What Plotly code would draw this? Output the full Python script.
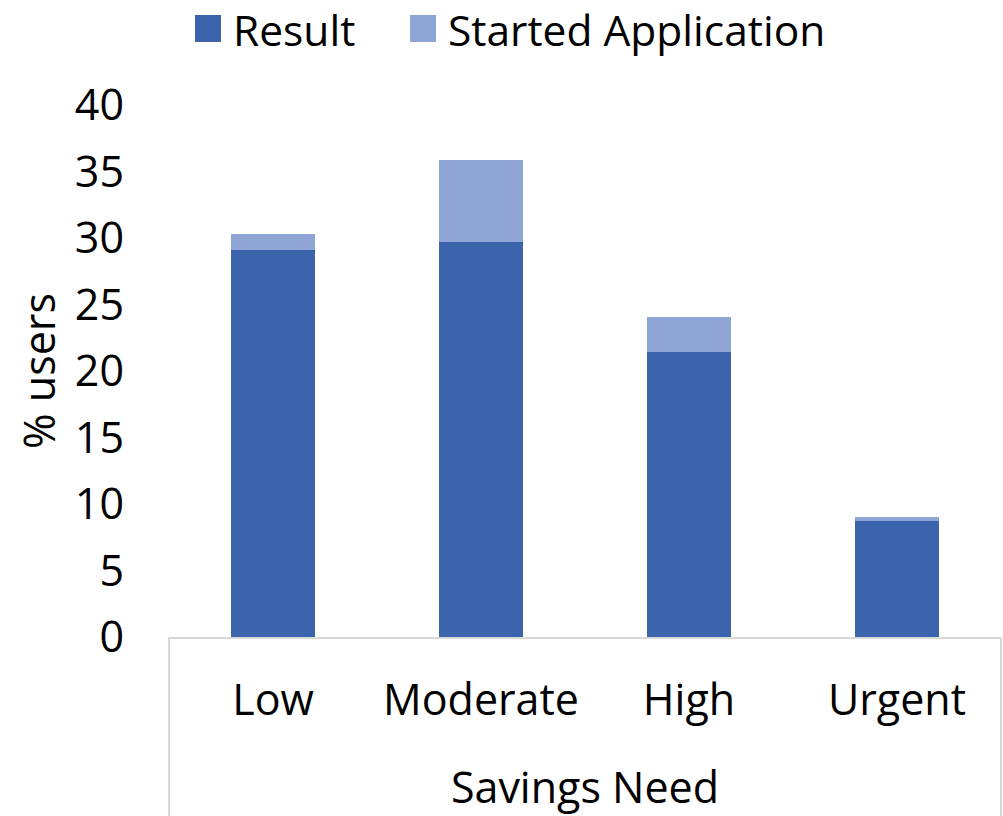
import plotly.graph_objects as go

categories = ["Low", "Moderate", "High", "Urgent"]
result = [29.1, 29.7, 21.4, 8.75]
started = [1.2, 6.2, 2.65, 0.3]
y_ticks = [0, 5, 10, 15, 20, 25, 30, 35, 40]
series_names = ["Result", "Started Application"]

FONT = "Open Sans"
C_RESULT = "#3B64AD"
C_STARTED = "#8FA5D5"
BOX = "#D9D9D9"
FS = 43

# plot area in pixels: x 169..1001, y 105..637
def px(x):
    return (x - 169) / 832.0

def py(y):
    return (637 - y) / 532.0

fig = go.Figure()
fig.add_trace(go.Bar(x=categories, y=result, name=series_names[0], showlegend=False,
                     marker=dict(color=C_RESULT, line=dict(width=0))))
fig.add_trace(go.Bar(x=categories, y=started, name=series_names[1], showlegend=False,
                     marker=dict(color=C_STARTED, line=dict(width=0))))

# manual legend (squares + labels)
legend_items = [(195, series_names[0], C_RESULT), (410, series_names[1], C_STARTED)]
shapes = [
    dict(type="line", xref="paper", yref="paper", x0=0, x1=0, y0=0, y1=-0.4, line=dict(color=BOX, width=2)),
    dict(type="line", xref="paper", yref="paper", x0=1, x1=1, y0=0, y1=-0.4, line=dict(color=BOX, width=2)),
]
annotations = []
for x0, name, col in legend_items:
    shapes.append(dict(type="rect", xref="paper", yref="paper", x0=px(x0), x1=px(x0 + 26),
                       y0=py(42), y1=py(15), fillcolor=col, line=dict(width=0)))
    annotations.append(dict(text=name, xref="paper", yref="paper", x=px(x0 + 36), y=py(29.5),
                            xanchor="left", yanchor="middle", showarrow=False,
                            font=dict(family=FONT, size=42.5, color="black")))

fig.update_layout(
    barmode="stack",
    bargap=0.6,
    width=1003, height=816,
    margin=dict(l=169, r=2, t=105, b=179),
    paper_bgcolor="white", plot_bgcolor="white",
    font=dict(family=FONT, size=FS, color="black"),
    showlegend=False,
    xaxis=dict(showline=True, linecolor=BOX, linewidth=2, ticks="", showgrid=False,
               tickfont=dict(size=FS), ticklabelstandoff=24,
               title=dict(text="Savings Need", font=dict(size=FS), standoff=50)),
    yaxis=dict(range=[0, 40], tickvals=y_ticks, showgrid=False, zeroline=False, showline=False,
               tickfont=dict(size=FS), ticklabelstandoff=44,
               title=dict(text="% users", font=dict(size=FS), standoff=5)),
    shapes=shapes,
    annotations=annotations,
)

fig.write_html("out.html")
